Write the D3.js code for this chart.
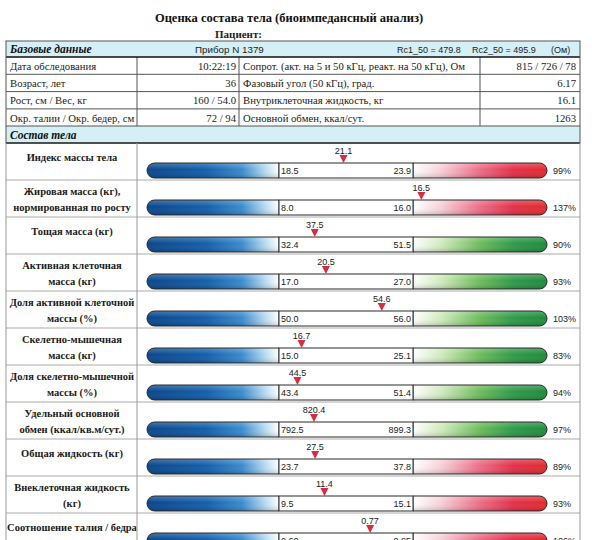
<!DOCTYPE html>
<html>
<head>
<meta charset="utf-8">
<script src="https://cdn.jsdelivr.net/npm/d3@7"></script>
<style>
  body { margin: 0; background: #fff; }
  svg { display: block; }
</style>
</head>
<body>
<svg id="report" width="592" height="540"></svg>
<script>
// --- data ---
const baseHeader = ["Базовые данные", "Прибор N 1379", "Rc1_50 = 479.8", "Rc2_50 = 495.9", "(Ом)"];
const baseLabelsL = ["Дата обследования", "Возраст, лет", "Рост, см / Вес, кг", "Окр. талии / Окр. бедер, см"];
const baseValuesL = ["10:22:19", "36", "160 / 54.0", "72 / 94"];
const baseLabelsR = ["Сопрот. (акт. на 5 и 50 кГц, реакт. на 50 кГц), Ом", "Фазовый угол (50 кГц), град.",
                     "Внутриклеточная жидкость, кг", "Основной обмен, ккал/сут."];
const baseValuesR = ["815 / 726 / 78", "6.17", "16.1", "1263"];

const compLabels = [
  ["Индекс массы тела"],
  ["Жировая масса (кг),", "нормированная по росту"],
  ["Тощая масса (кг)"],
  ["Активная клеточная", "масса (кг)"],
  ["Доля активной клеточной", "массы (%)"],
  ["Скелетно-мышечная", "масса (кг)"],
  ["Доля скелетно-мышечной", "массы (%)"],
  ["Удельный основной", "обмен (ккал/кв.м/сут.)"],
  ["Общая жидкость (кг)"],
  ["Внеклеточная жидкость", "(кг)"],
  ["Соотношение талия / бедра"]
];
const normLow  = [18.5, 8.0, 32.4, 17.0, 50.0, 15.0, 43.4, 792.5, 23.7, 9.5, 0.60];
const normHigh = [23.9, 16.0, 51.5, 27.0, 56.0, 25.1, 51.4, 899.3, 37.8, 15.1, 0.85];
const measured = [21.1, 16.5, 37.5, 20.5, 54.6, 16.7, 44.5, 820.4, 27.5, 11.4, 0.77];
const digits   = [1, 1, 1, 1, 1, 1, 1, 1, 1, 1, 2];
const percents = [99, 137, 90, 93, 103, 83, 94, 97, 89, 93, 106];
const upperKind = ["red", "red", "green", "green", "green", "green", "green", "green", "red", "red", "red"];

const SERIF = "'Liberation Serif', 'Times New Roman', serif";
const SANS = "'Liberation Sans', Arial, sans-serif";

const svg = d3.select("#report");

// table geometry
const TL = 6, TR = 580;
const COLS = [137, 239, 480];
const HEAD_TOP = 41, HEAD_BOT = 57, ROW_H = 17.3;
const COMP_TOP = 126, COMP_BOT = 143, CROW_H = 37.0;
const BAR_L = 147, MID_L = 279, MID_R = 413, BAR_R = 547, BAR_H = 15;

// gradients
const defs = svg.append("defs");
function grad(id, stops) {
  const g = defs.append("linearGradient").attr("id", id)
    .attr("x1", "0%").attr("x2", "100%").attr("y1", "0%").attr("y2", "0%");
  stops.forEach(s => g.append("stop").attr("offset", s[0]).attr("stop-color", s[1]));
}
grad("blue", [["0%", "#0a468a"], ["45%", "#135fab"], ["72%", "#3a8bcd"], ["90%", "#b9dcf2"], ["100%", "#ffffff"]]);
grad("red", [["0%", "#ffffff"], ["20%", "#f7d3da"], ["50%", "#ec6d86"], ["75%", "#e3304a"], ["100%", "#e22a2e"]]);
grad("green", [["0%", "#ffffff"], ["22%", "#cde9b9"], ["50%", "#6cbc5c"], ["75%", "#2f9a4a"], ["100%", "#1f8b3c"]]);
const gloss = defs.append("linearGradient").attr("id", "gloss")
  .attr("x1", "0%").attr("x2", "0%").attr("y1", "0%").attr("y2", "100%");
gloss.append("stop").attr("offset", "0%").attr("stop-color", "#fff").attr("stop-opacity", 0.25);
gloss.append("stop").attr("offset", "45%").attr("stop-color", "#fff").attr("stop-opacity", 0);
gloss.append("stop").attr("offset", "100%").attr("stop-color", "#000").attr("stop-opacity", 0.18);

// title
svg.append("text").attr("x", 289).attr("y", 22).attr("text-anchor", "middle")
  .attr("font-family", SERIF).attr("font-weight", "bold").attr("font-size", 12.5).attr("fill", "#111")
  .text("Оценка состава тела (биоимпедансный анализ)");
svg.append("text").attr("x", 215).attr("y", 38)
  .attr("font-family", SERIF).attr("font-weight", "bold").attr("font-size", 11).attr("fill", "#222")
  .text("Пациент:");

// header band
svg.append("rect").attr("x", TL).attr("y", HEAD_TOP).attr("width", TR - TL).attr("height", HEAD_BOT - HEAD_TOP)
  .attr("fill", "#d5eff6");
svg.append("text").attr("x", 10).attr("y", 53)
  .attr("font-family", SERIF).attr("font-weight", "bold").attr("font-style", "italic").attr("font-size", 11.5)
  .attr("fill", "#111").text(baseHeader[0]);
const headX = [195, 397, 472, 551];
baseHeader.slice(1).forEach((t, i) => {
  svg.append("text").attr("x", headX[i]).attr("y", 52.5)
    .attr("font-family", SANS).attr("font-size", i === 0 ? 9.8 : 9).attr("fill", "#222").text(t);
});

// base data rows
const rowY = d3.range(baseLabelsL.length).map(i => HEAD_BOT + i * ROW_H);
const base = svg.append("g").attr("font-family", SERIF).attr("font-size", 10.7).attr("fill", "#222");
rowY.forEach((y, i) => {
  const by = y + ROW_H / 2 + 4;
  base.append("text").attr("x", 10).attr("y", by).text(baseLabelsL[i]);
  base.append("text").attr("x", COLS[1] - 3).attr("y", by).attr("text-anchor", "end").text(baseValuesL[i]);
  base.append("text").attr("x", COLS[1] + 4).attr("y", by).text(baseLabelsR[i]);
  base.append("text").attr("x", TR - 4).attr("y", by).attr("text-anchor", "end").text(baseValuesR[i]);
});

// composition band
svg.append("rect").attr("x", TL).attr("y", COMP_TOP).attr("width", TR - TL).attr("height", COMP_BOT - COMP_TOP)
  .attr("fill", "#d5eff6");
svg.append("text").attr("x", 10).attr("y", 138.5)
  .attr("font-family", SERIF).attr("font-weight", "bold").attr("font-style", "italic").attr("font-size", 11.5)
  .attr("fill", "#111").text("Состав тела");

// grid lines of upper table
const lines = svg.append("g").attr("stroke", "#555").attr("stroke-width", 1);
rowY.slice(1).forEach(y => lines.append("line").attr("x1", TL).attr("x2", TR).attr("y1", y).attr("y2", y));
COLS.forEach(x => lines.append("line").attr("x1", x).attr("x2", x).attr("y1", HEAD_BOT).attr("y2", COMP_TOP));
lines.append("line").attr("x1", TL).attr("x2", TR).attr("y1", COMP_TOP).attr("y2", COMP_TOP);
[HEAD_BOT, COMP_BOT].forEach(y =>
  svg.append("line").attr("x1", TL).attr("x2", TR).attr("y1", y).attr("y2", y)
    .attr("stroke", "#111").attr("stroke-width", 1.3));
svg.append("rect").attr("x", TL).attr("y", HEAD_TOP).attr("width", TR - TL).attr("height", COMP_BOT - HEAD_TOP)
  .attr("fill", "none").attr("stroke", "#555");

// composition rows
const rows = svg.append("g");
const bottom = 540;
svg.append("line").attr("x1", COLS[0]).attr("x2", COLS[0]).attr("y1", COMP_BOT).attr("y2", bottom)
  .attr("stroke", "#999");
svg.append("line").attr("x1", TL).attr("x2", TL).attr("y1", COMP_BOT).attr("y2", bottom).attr("stroke", "#999");
svg.append("line").attr("x1", TR).attr("x2", TR).attr("y1", COMP_BOT).attr("y2", bottom).attr("stroke", "#999");

compLabels.forEach((lab, i) => {
  const top = COMP_BOT + i * CROW_H;
  const g = rows.append("g");
  if (i > 0) {
    g.append("line").attr("x1", TL).attr("x2", TR).attr("y1", top).attr("y2", top).attr("stroke", "#aaa");
  }
  // label
  const lt = g.append("text").attr("text-anchor", "middle").attr("font-family", SERIF)
    .attr("font-weight", "bold").attr("font-size", 10.5).attr("fill", "#1a1a1a");
  if (lab.length === 1) {
    lt.append("tspan").attr("x", 72).attr("y", top + 18).text(lab[0]);
  } else {
    lt.append("tspan").attr("x", 72).attr("y", top + 15).text(lab[0]);
    lt.append("tspan").attr("x", 72).attr("y", top + 31).text(lab[1]);
  }

  const y0 = top + 20, r = BAR_H / 2;
  const x = d3.scaleLinear().domain([normLow[i], normHigh[i]]).range([MID_L, MID_R]);
  const fmt = d3.format("." + digits[i] + "f");

  const leftPath = `M${x(normLow[i])},${y0} H${BAR_L + r} A${r},${r} 0 0 0 ${BAR_L + r},${y0 + BAR_H} H${x(normLow[i])} Z`;
  const rightPath = `M${x(normHigh[i])},${y0} H${BAR_R - r} A${r},${r} 0 0 1 ${BAR_R - r},${y0 + BAR_H} H${x(normHigh[i])} Z`;
  g.append("path").attr("d", leftPath).attr("fill", "url(#blue)");
  g.append("path").attr("d", leftPath).attr("fill", "url(#gloss)").attr("stroke", "#2a2a2a").attr("stroke-width", 1);
  g.append("path").attr("d", rightPath).attr("fill", "url(#" + upperKind[i] + ")");
  g.append("path").attr("d", rightPath).attr("fill", "url(#gloss)").attr("stroke", "#2a2a2a").attr("stroke-width", 1);
  g.append("rect").attr("x", x(normLow[i])).attr("y", y0).attr("width", x(normHigh[i]) - x(normLow[i]))
    .attr("height", BAR_H).attr("fill", "#fff").attr("stroke", "#2a2a2a");

  const ty = y0 + BAR_H / 2 + 3.3;
  g.append("text").attr("x", x(normLow[i]) + 2).attr("y", ty)
    .attr("font-family", SANS).attr("font-size", 9).attr("fill", "#222").text(fmt(normLow[i]));
  g.append("text").attr("x", x(normHigh[i]) - 2).attr("y", ty).attr("text-anchor", "end")
    .attr("font-family", SANS).attr("font-size", 9).attr("fill", "#222").text(fmt(normHigh[i]));
  g.append("text").attr("x", 553).attr("y", ty)
    .attr("font-family", SANS).attr("font-size", 9).attr("fill", "#222").text(percents[i] + "%");

  // marker
  const mx = x(measured[i]);
  g.append("path").attr("d", `M${mx - 4},${y0 - 8} L${mx + 4},${y0 - 8} L${mx},${y0} Z`)
    .attr("fill", "#d82a40");
  g.append("text").attr("x", mx).attr("y", y0 - 9.5).attr("text-anchor", "middle")
    .attr("font-family", SANS).attr("font-size", 9).attr("fill", "#222").text(fmt(measured[i]));
});
</script>
</body>
</html>
